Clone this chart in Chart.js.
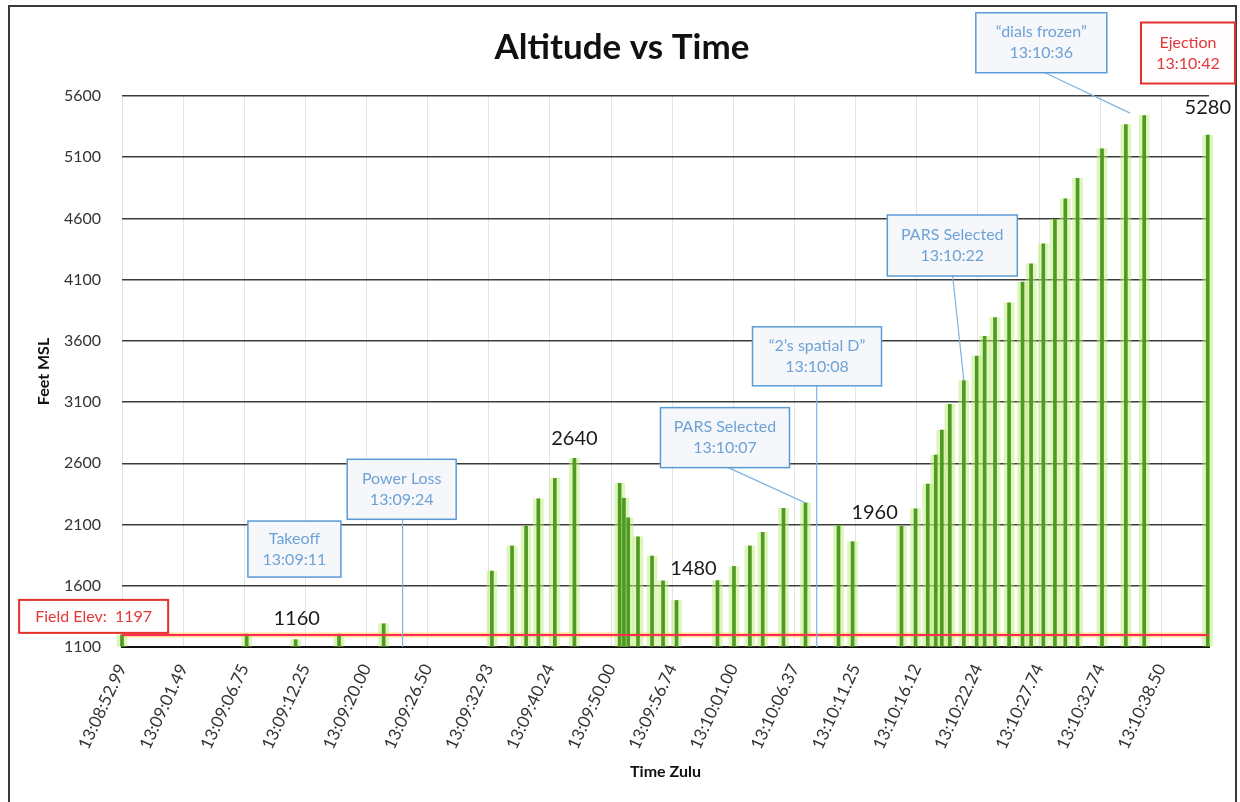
<!DOCTYPE html>
<html><head><meta charset="utf-8">
<script src="https://cdn.jsdelivr.net/npm/chart.js@4.4.1/dist/chart.umd.min.js"></script>
<style>html,body{margin:0;padding:0;background:#fff;}#wrap{width:1240px;height:802px;}</style>
</head><body><div id="wrap"><canvas id="c" width="1240" height="802"></canvas></div>
<script>
// ---- data ----
const chartTitle = "Altitude vs Time";
const tickLabels = ["13:08:52.99","13:09:01.49","13:09:06.75","13:09:12.25","13:09:20.00","13:09:26.50","13:09:32.93","13:09:40.24","13:09:50.00","13:09:56.74","13:10:01.00","13:10:06.37","13:10:11.25","13:10:16.12","13:10:22.24","13:10:27.74","13:10:32.74","13:10:38.50"];
// position of each sample along the Time Zulu axis, in tick-label intervals
const samplePos = [0.00,2.04,2.84,3.55,4.28, 6.05,6.38,6.61,6.81,7.08,7.40, 8.14,8.21,8.28,8.44,8.67,8.85,9.07, 9.74,10.01,10.27,10.48,10.82,11.18, 11.72,11.95, 12.75,12.98,13.18,13.31,13.41,13.54, 13.77,13.98,14.11,14.28,14.51, 14.73,14.87,15.07,15.26,15.43,15.63, 16.03,16.42,16.72, 17.76];
const altitudes = [1200,1205,1160,1205,1290, 1720,1925,2088,2310,2477,2640, 2437,2315,2155,2000,1843,1640,1480, 1642,1758,1925,2036,2232,2277, 2090,1960, 2085,2228,2430,2668,2872,3082, 3275,3476,3637,3790,3910, 4080,4230,4393,4592,4760,4928, 5168,5367,5440, 5280];
const fieldElev = 1197;
const yMin = 1100, yMax = 5600, yStep = 500;
const xMax = 17.78;
const labeledBars = [2, 10, 17, 25, 46];
const callouts = [
  {lines:["Takeoff","13:09:11"], x:2.82, y:1900, kind:'blue'},
  {lines:["Power Loss","13:09:24"], x:4.575, y:2388, kind:'blue', leader:{fromX:4.59, toX:4.59, toY:1100}},
  {lines:["PARS Selected","13:10:07"], x:9.863, y:2810, kind:'blue', leader:{fromX:9.917, toBar:23}},
  {lines:["\u201C2\u2019s spatial D\u201D","13:10:08"], x:11.368, y:3474, kind:'blue', leader:{fromX:11.363, toX:11.363, toY:1100}},
  {lines:["PARS Selected","13:10:22"], x:13.581, y:4379, kind:'blue', leader:{fromX:13.587, toBar:32}},
  {lines:["\u201Cdials frozen\u201D","13:10:36"], x:15.037, y:6035, kind:'blue', leader:{fromX:15.096, toX:16.49, toY:5460}},
  {lines:["Ejection","13:10:42"], x:17.436, y:5951, kind:'red'},
  {lines:["Field Elev:  " + fieldElev], x:-0.4637, y:1350, kind:'red'}
];

// ---- layout / style (pixels) ----
const boxSizes = [[93,56],[109,60],[129,60],[129,59],[130,61],[131,60],[94,61],[149,33]];
const labelOffsets = [[1,-21],[0,-20],[17,-32],[22,-29],[0,-28]];

const bars = samplePos.map((x,i)=>({x:x, y:altitudes[i]}));
const fieldLine = [{x:0,y:fieldElev},{x:xMax,y:fieldElev}];

const overlay = {
  id:'overlay',
  beforeDraw(chart){
    const c = chart.ctx; c.save(); c.fillStyle='#fff'; c.fillRect(0,0,chart.width,chart.height); c.restore();
  },
  afterDraw(chart){
    const ctx = chart.ctx, xs = chart.scales.x, ys = chart.scales.y;
    ctx.save();
    ctx.strokeStyle='#3a3a3a'; ctx.lineWidth=2; ctx.strokeRect(9,6,1227,806);
    ctx.fillStyle='#111'; ctx.font='bold 35px Lato'; ctx.textAlign='center'; ctx.textBaseline='middle';
    ctx.fillText(chartTitle, 622, 48);
    callouts.forEach((c,k)=>{
      if(!c.leader) return;
      const h = boxSizes[k][1];
      const sy = ys.getPixelForValue(c.y) + h/2;
      const sx = xs.getPixelForValue(c.leader.fromX);
      let ex, ey;
      if (c.leader.toBar !== undefined){
        ex = xs.getPixelForValue(samplePos[c.leader.toBar]);
        ey = ys.getPixelForValue(altitudes[c.leader.toBar]);
      } else {
        ex = xs.getPixelForValue(c.leader.toX);
        ey = ys.getPixelForValue(c.leader.toY);
      }
      ctx.strokeStyle='#7fb4e4'; ctx.lineWidth=1.2;
      ctx.beginPath(); ctx.moveTo(sx,sy); ctx.lineTo(ex,ey); ctx.stroke();
    });
    callouts.forEach((c,k)=>{
      const [w,h] = boxSizes[k];
      const cx = xs.getPixelForValue(c.x), cy = ys.getPixelForValue(c.y);
      const red = c.kind==='red';
      ctx.fillStyle = red ? '#fffdfd' : '#f5f7fa';
      ctx.fillRect(cx-w/2, cy-h/2, w, h);
      ctx.strokeStyle = red ? '#e3312b' : '#5b9bd5';
      ctx.lineWidth = red ? 2 : 1.5;
      ctx.strokeRect(cx-w/2, cy-h/2, w, h);
      ctx.fillStyle = red ? '#e2383a' : '#6ea2d6';
      ctx.font = '16px Lato'; ctx.textAlign='center'; ctx.textBaseline='middle';
      const n = c.lines.length;
      c.lines.forEach((t,j)=>{ ctx.fillText(t, cx, cy + (j-(n-1)/2)*21); });
    });
    ctx.fillStyle='#1a1a1a'; ctx.font='20px Lato'; ctx.textAlign='center'; ctx.textBaseline='middle';
    labeledBars.forEach((i,k)=>{
      const px = xs.getPixelForValue(samplePos[i]) + labelOffsets[k][0];
      const py = ys.getPixelForValue(altitudes[i]) + labelOffsets[k][1];
      ctx.fillText(String(altitudes[i]), px, py);
    });
    ctx.restore();
  }
};

new Chart(document.getElementById('c').getContext('2d'), {
  type:'bar',
  data:{datasets:[
    {type:'line', data:fieldLine, borderColor:'#ff2b55', borderWidth:2, pointRadius:0, order:0},
    {data:bars, backgroundColor:'#4e9a22', barThickness:3, grouped:false, base:yMin, order:1, clip:false},
    {data:bars, backgroundColor:'rgba(190,235,120,0.5)', barThickness:10, grouped:false, base:yMin, order:2, clip:false},
    {type:'line', data:fieldLine, borderColor:'rgba(255,196,70,0.55)', borderWidth:5, pointRadius:0, order:3}
  ]},
  options:{
    responsive:false, animation:false, devicePixelRatio:1,
    layout:{padding:{top:96,right:31,left:0,bottom:0}},
    plugins:{legend:{display:false}, tooltip:{enabled:false}, title:{display:false}},
    scales:{
      x:{type:'linear', min:0, max:xMax, offset:false,
        afterBuildTicks:s=>{ s.ticks = tickLabels.map((_,i)=>({value:i})); },
        afterFit:s=>{ s.height = 155; },
        grid:{display:true, offset:false, drawTicks:false, color:'#e4e4e4', lineWidth:1},
        border:{display:true, color:'#111', width:2},
        ticks:{autoSkip:false, maxRotation:65, minRotation:65, padding:14, color:'#333', font:{family:'Lato', size:17}, callback:(v)=>tickLabels[v]},
        title:{display:true, text:'Time Zulu', color:'#111', font:{family:'Lato', size:16, weight:'bold'}, padding:{top:0,bottom:21}}
      },
      y:{min:yMin, max:yMax,
        afterFit:s=>{ s.width = 122; },
        grid:{color:'#3c3c3c', lineWidth:1.5, drawTicks:false},
        border:{display:false},
        ticks:{stepSize:yStep, padding:21, color:'#333', font:{family:'Lato', size:16}, callback:(v)=>String(v)},
        title:{display:true, text:'Feet MSL', color:'#111', font:{family:'Lato', size:16, weight:'bold'}, padding:{top:34,bottom:0}}
      }
    }
  },
  plugins:[overlay]
});
</script></body></html>
